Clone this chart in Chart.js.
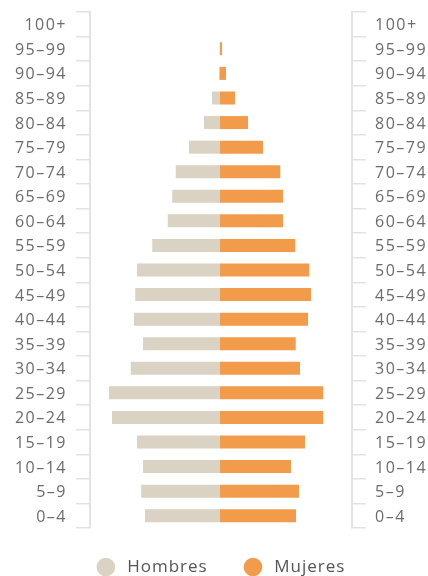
<!DOCTYPE html>
<html>
<head>
<meta charset="utf-8">
<script src="https://cdn.jsdelivr.net/npm/chart.js@4/dist/chart.umd.min.js"></script>
<style>
  body { margin: 0; background: #fff; }
  #wrap { width: 428px; height: 576px; }
</style>
</head>
<body>
<div id="wrap"><canvas id="pyramid" width="428" height="576"></canvas></div>
<script>
// age groups, youngest first (axis is reversed so 100+ sits on top)
const ageGroups = ['0–4', '5–9', '10–14', '15–19', '20–24', '25–29', '30–34', '35–39',
    '40–44', '45–49', '50–54', '55–59', '60–64', '65–69', '70–74', '75–79',
    '80–84', '85–89', '90–94', '95–99', '100+'];

// share of total population, %
const hombres = [3.0, 3.15, 3.08, 3.32, 4.32, 4.44, 3.57, 3.08, 3.44, 3.39, 3.32,
    2.71, 2.09, 1.91, 1.77, 1.24, 0.64, 0.32, 0.04, 0.01, 0];
const mujeres = [3.04, 3.16, 2.84, 3.4, 4.13, 4.13, 3.2, 3.03, 3.52, 3.64, 3.57,
    3.01, 2.52, 2.52, 2.41, 1.72, 1.12, 0.6, 0.24, 0.08, 0];

const seriesNames = ['Hombres', 'Mujeres'];
const seriesColors = ['#dad2c2', '#f29b4b'];

const tickFont = { family: '"Open Sans", sans-serif', size: 16 };
const lineColor = '#e2e2e2';

// spaced-out digits like the original
const spacing = {
    id: 'spacing',
    beforeDraw(chart) {
        chart.ctx.letterSpacing = '1.5px';
    }
};

// round markers + names under the chart
const bottomLegend = {
    id: 'bottomLegend',
    afterDraw(chart) {
        const ctx = chart.ctx;
        const r = 9.3, gapText = 12, gapItem = 36;
        ctx.save();
        ctx.letterSpacing = '1px';
        ctx.font = '17px "Open Sans", sans-serif';
        ctx.textBaseline = 'middle';
        const items = chart.data.datasets.map(ds => ({
            text: ds.label, color: ds.backgroundColor, w: ctx.measureText(ds.label).width
        }));
        let total = 0;
        items.forEach((it, i) => { total += 2 * r + gapText + it.w + (i ? gapItem : 0); });
        const area = chart.chartArea;
        let x = (area.left + area.right) / 2 - total / 2;
        const y = 567;
        items.forEach(it => {
            ctx.fillStyle = it.color;
            ctx.beginPath();
            ctx.arc(x + r, y, r, 0, Math.PI * 2);
            ctx.fill();
            ctx.fillStyle = '#555';
            ctx.fillText(it.text, x + 2 * r + gapText, y);
            x += 2 * r + gapText + it.w + gapItem;
        });
        ctx.restore();
    }
};

const yAxis = (pos, width) => ({
    type: 'category',
    position: pos,
    reverse: true,
    offset: true,
    stacked: true,
    grid: { drawOnChartArea: false, drawTicks: true, tickLength: 14, color: lineColor, lineWidth: 1.5, offset: true },
    border: { color: lineColor, width: 2 },
    ticks: { padding: 9, labelOffset: 1.5, color: '#6b6b6b', font: tickFont, autoSkip: false },
    afterFit: (axis) => { axis.width = width; axis.paddingTop = 0; axis.paddingBottom = 0; }
});

new Chart(document.getElementById('pyramid'), {
    type: 'bar',
    data: {
        labels: ageGroups,
        datasets: [
            {
                label: seriesNames[0],
                data: hombres.map(v => -v),
                backgroundColor: seriesColors[0],
                yAxisID: 'y'
            },
            {
                label: seriesNames[1],
                data: mujeres,
                backgroundColor: seriesColors[1],
                yAxisID: 'y'
            }
        ]
    },
    options: {
        indexAxis: 'y',
        responsive: false,
        animation: false,
        layout: { padding: { top: 12, bottom: 48 } },
        datasets: { bar: { barPercentage: 0.53, categoryPercentage: 1 } },
        scales: {
            x: { display: false, stacked: true, min: -5.2, max: 5.28 },
            y: yAxis('left', 90),
            y2: yAxis('right', 76)
        },
        plugins: {
            legend: { display: false },
            tooltip: { enabled: false }
        }
    },
    plugins: [spacing, bottomLegend]
});
</script>
</body>
</html>
